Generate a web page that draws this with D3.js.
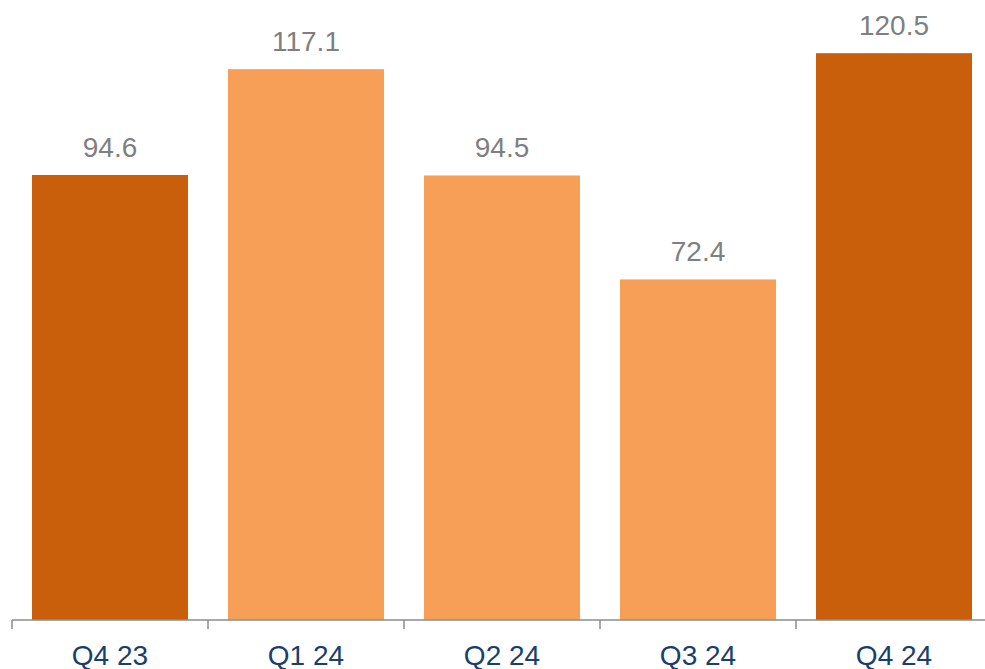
<!doctype html>
<html>
  <head>
    <script src="https://cdn.jsdelivr.net/npm/d3@7"></script>
    <style>
      body { margin: 0; background: #fff; }
      text { font-family: "Liberation Sans", Arial, sans-serif; }
    </style>
  </head>
  <body>
    <svg width="985" height="669"></svg>

    <script type="text/javascript">

        var categories = ["Q4 23", "Q1 24", "Q2 24", "Q3 24", "Q4 24"];
        var values = [94.6, 117.1, 94.5, 72.4, 120.5];
        var valueLabels = ["94.6", "117.1", "94.5", "72.4", "120.5"];
        var highlight = [true, false, false, false, true];

        var svg = d3.select("svg");
        var width = +svg.attr("width");
        var baseY = 620;

        var x = d3.scaleBand()
            .domain(categories)
            .range([12, 992])
            .paddingInner(0.2041)
            .paddingOuter(0.102);

        var y = d3.scaleLinear()
            .domain([0, 130])
            .range([baseY, baseY - 130 * 4.704]);

        var data = categories.map((c, i) => ({cat: c, value: values[i], label: valueLabels[i], dark: highlight[i]}));

        // bars
        svg.selectAll("rect.bar")
            .data(data)
            .enter().append("rect")
            .attr("class", "bar")
            .attr("x", d => x(d.cat))
            .attr("y", d => y(d.value))
            .attr("width", x.bandwidth())
            .attr("height", d => y(0) - y(d.value))
            .attr("fill", d => d.dark ? "#C95F0A" : "#F89F57");

        // value labels
        svg.selectAll("text.val")
            .data(data)
            .enter().append("text")
            .attr("class", "val")
            .attr("x", d => x(d.cat) + x.bandwidth() / 2)
            .attr("y", d => y(d.value) - 18)
            .attr("text-anchor", "middle")
            .attr("font-size", 28)
            .attr("fill", "#7F7F7F")
            .text(d => d.label);

        // axis line + ticks at band edges
        var axis = svg.append("g").attr("stroke", "#8C8C8C").attr("stroke-width", 1.5);
        axis.append("line")
            .attr("x1", 12).attr("x2", width)
            .attr("y1", baseY).attr("y2", baseY);

        var edges = categories.map(c => x(c) - x.step() * x.paddingOuter());
        edges.push(edges[edges.length - 1] + x.step());
        axis.selectAll("line.tick")
            .data(edges)
            .enter().append("line")
            .attr("class", "tick")
            .attr("x1", d => d).attr("x2", d => d)
            .attr("y1", baseY).attr("y2", baseY + 9);

        // category labels
        svg.selectAll("text.cat")
            .data(categories)
            .enter().append("text")
            .attr("class", "cat")
            .attr("x", d => x(d) + x.bandwidth() / 2)
            .attr("y", 665)
            .attr("text-anchor", "middle")
            .attr("font-size", 28)
            .attr("fill", "#17406D")
            .text(d => d);

    </script>
  </body>
</html>
